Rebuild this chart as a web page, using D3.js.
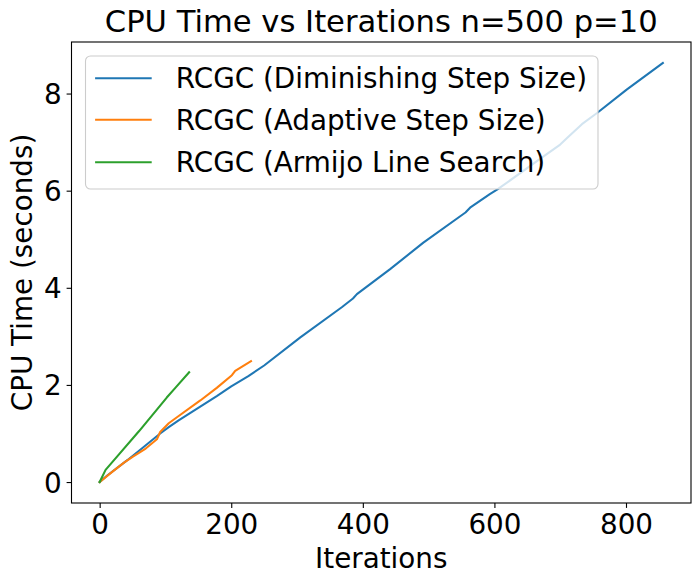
<!DOCTYPE html>
<html>
<head>
<meta charset="utf-8">
<script src="https://cdn.jsdelivr.net/npm/d3@7"></script>
<style>
  body { margin: 0; background: #fff; }
  svg text { font-family: "DejaVu Sans", sans-serif; fill: #000; }
</style>
</head>
<body>
<svg id="chart" width="700" height="584"></svg>
<script>
// Series values (iterations, CPU seconds)
const diminishingIter = [0, 12, 42, 65, 92, 105, 120, 178, 200, 226, 250, 305, 368, 385, 391, 442, 492, 556, 563, 593, 604, 672, 700, 710, 733, 756, 801, 856];
const diminishingTime = [0, 0.14, 0.45, 0.70, 1.00, 1.13, 1.27, 1.77, 1.97, 2.18, 2.40, 2.98, 3.60, 3.78, 3.87, 4.39, 4.93, 5.55, 5.65, 5.93, 6.02, 6.68, 6.95, 7.08, 7.37, 7.60, 8.08, 8.63];

const adaptiveIter = [0, 20, 37, 50, 70, 87, 92, 105, 118, 153, 178, 201, 206, 230];
const adaptiveTime = [0, 0.22, 0.40, 0.52, 0.69, 0.88, 1.03, 1.21, 1.34, 1.68, 1.94, 2.20, 2.29, 2.49];

const armijoIter = [0, 9, 30, 60, 102, 115, 136];
const armijoTime = [0, 0.25, 0.58, 1.05, 1.74, 1.94, 2.26];

const seriesNames = ["RCGC (Diminishing Step Size)", "RCGC (Adaptive Step Size)", "RCGC (Armijo Line Search)"];
const seriesColors = ["#1f77b4", "#ff7f0e", "#2ca02c"];
const xTicks = [0, 200, 400, 600, 800];
const yTicks = [0, 2, 4, 6, 8];

const titleText = "CPU Time vs Iterations n=500 p=10";
const xLabel = "Iterations";
const yLabel = "CPU Time (seconds)";

// build point lists for each series
const series = [
  d3.zip(diminishingIter, diminishingTime),
  d3.zip(adaptiveIter, adaptiveTime),
  d3.zip(armijoIter, armijoTime)
];

// plot area (pixels)
const margin = { top: 42, right: 9, bottom: 81, left: 71.5 };
const width = 700 - margin.left - margin.right,
  height = 584 - margin.top - margin.bottom;
const fs = 27.8; // 20pt at 100dpi
const titleFs = 30.6;

const svg = d3.select("#chart");
const g = svg.append("g")
  .attr("transform", "translate(" + margin.left + "," + margin.top + ")");

// matplotlib style 5% margins around data
const allX = series.flat().map(d => d[0]);
const allY = series.flat().map(d => d[1]);
const xMin = d3.min(allX), xMax = d3.max(allX);
const yMin = d3.min(allY), yMax = d3.max(allY);
const xPad = (xMax - xMin) * 0.05, yPad = (yMax - yMin) * 0.05;

const x = d3.scaleLinear().domain([xMin - xPad, xMax + xPad]).range([0, width]);
const y = d3.scaleLinear().domain([yMin - yPad, yMax + yPad]).range([height, 0]);

// lines
const line = d3.line().x(d => x(d[0])).y(d => y(d[1]));
g.selectAll(".series")
  .data(series)
  .enter().append("path")
  .attr("class", "series")
  .attr("d", line)
  .attr("fill", "none")
  .attr("stroke", (d, i) => seriesColors[i])
  .attr("stroke-width", 2.08)
  .attr("stroke-linejoin", "round")
  .attr("stroke-linecap", "square");

// axes
const xAxis = d3.axisBottom(x).tickValues(xTicks).tickSize(4.9).tickPadding(4.9).tickFormat(d3.format("d"));
const yAxis = d3.axisLeft(y).tickValues(yTicks).tickSize(4.9).tickPadding(4.9).tickFormat(d3.format("d"));

const gx = g.append("g").attr("transform", "translate(0," + height + ")").call(xAxis);
const gy = g.append("g").call(yAxis);
[gx, gy].forEach(a => {
  a.select(".domain").remove();
  a.selectAll(".tick line").attr("stroke", "#000").attr("stroke-width", 1.1);
  a.selectAll(".tick text").style("font-size", fs + "px").attr("font-family", "DejaVu Sans");
});
gx.selectAll(".tick text").attr("dy", "0.76em");
gy.selectAll(".tick text").attr("dy", "0.36em");

// frame
g.append("rect")
  .attr("width", width).attr("height", height)
  .attr("fill", "none").attr("stroke", "#000").attr("stroke-width", 1.1);

// legend
const legend = g.append("g").attr("transform", "translate(14,14)");
const legendBox = legend.append("rect")
  .attr("rx", 5).attr("ry", 5)
  .attr("fill", "#fff").attr("fill-opacity", 0.8)
  .attr("stroke", "#cccccc").attr("stroke-width", 1.1);
const rowY = [22.2, 63.8, 106.2];
let maxW = 0;
seriesNames.forEach((name, i) => {
  legend.append("line")
    .attr("x1", 9.6).attr("x2", 66.2)
    .attr("y1", rowY[i]).attr("y2", rowY[i])
    .attr("stroke", seriesColors[i]).attr("stroke-width", 2.08);
  const t = legend.append("text")
    .attr("x", 90.3).attr("y", rowY[i]).attr("dy", "0.36em")
    .style("font-size", fs + "px")
    .text(name);
  maxW = Math.max(maxW, t.node().getComputedTextLength());
});
legendBox.attr("width", 90.3 + maxW + 11).attr("height", 133);

// title and axis labels
svg.append("text")
  .attr("x", margin.left + width / 2).attr("y", 32)
  .attr("text-anchor", "middle")
  .style("font-size", titleFs + "px")
  .text(titleText);

svg.append("text")
  .attr("x", margin.left + width / 2).attr("y", 568)
  .attr("text-anchor", "middle")
  .style("font-size", fs + "px")
  .text(xLabel);

svg.append("text")
  .attr("transform", "translate(32," + (margin.top + height / 2) + ") rotate(-90)")
  .attr("text-anchor", "middle")
  .style("font-size", fs + "px")
  .text(yLabel);
</script>
</body>
</html>
